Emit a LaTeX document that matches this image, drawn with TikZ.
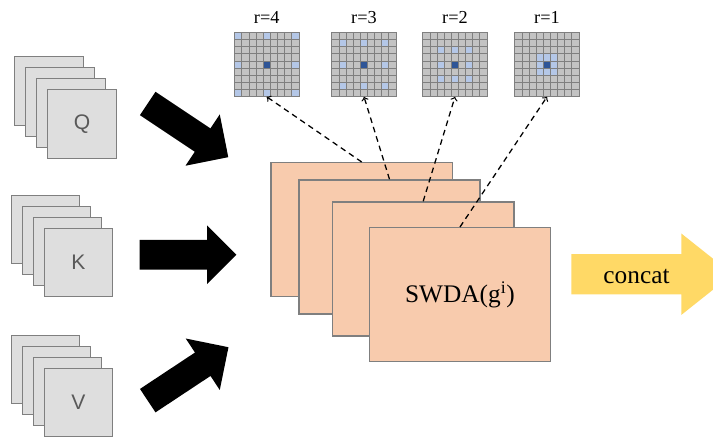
\documentclass[tikz,border=0pt]{standalone}
\usepackage{fontspec}
\setmainfont{Liberation Serif}
\setsansfont{Liberation Sans}
\usetikzlibrary{positioning,shapes.arrows}

\definecolor{sheetfill}{HTML}{DEDEDE}
\definecolor{framegray}{HTML}{7F7F7F}
\definecolor{cellgray}{HTML}{C3C3C3}
\definecolor{peach}{HTML}{F8CBAD}
\definecolor{lightblue}{HTML}{B4C7E7}
\definecolor{darkblue}{HTML}{2F5597}
\definecolor{catyellow}{HTML}{FFD966}
\definecolor{lettergray}{HTML}{595959}

\tikzset{
  sheet/.style={draw=framegray,fill=sheetfill,line width=0.8pt,
    minimum width=1.72cm,minimum height=1.72cm,inner sep=0,
    font=\sffamily\fontsize{15}{18}\selectfont,text=lettergray},
  headbox/.style={draw=framegray,fill=peach,line width=1pt,
    minimum width=4.53cm,minimum height=3.35cm,inner sep=0},
  gridbox/.style={fill=cellgray,minimum size=1.6cm,inner sep=0},
  gridline/.style={draw=framegray,line width=0.6pt},
  dashline/.style={->,dashed,dash pattern=on 4pt off 3pt,line width=0.9pt},
  bigarrow/.style={single arrow,fill=black,anchor=tail,inner sep=0,
    inner ysep=0.344cm,minimum height=2.42cm,
    single arrow head extend=0.42cm},
  catarrow/.style={single arrow,fill=catyellow,anchor=tail,inner sep=0,
    inner ysep=0.496cm,minimum height=4.03cm,
    single arrow head extend=0.515cm,single arrow tip angle=77}
}

\begin{document}
\begin{tikzpicture}[x=0.025cm,y=-0.025cm]
  \useasboundingbox (0,0) rectangle (713,437);
  \clip (0,0) rectangle (713,437);
  \pgfmathsetmacro\cs{64/9}

  % input stacks
  \foreach \s/\name/\sx/\sy in {q/Q/14.7/56.7, k/K/11/195, v/V/11/335} {
    \foreach \k in {0,1,2}
      \node[sheet] (\s\k) at (\sx+11*\k+34.5,\sy+11*\k+34.5) {};
    \node[sheet] (\s3) at (\sx+33+34.5,\sy+33+34.5) {\name};
  }

  % big arrows
  \node[bigarrow,rotate=-33.7] (qa) at (147.5,103.3) {};
  \node[bigarrow,inner ysep=0.366cm,single arrow head extend=0.36cm] (ka) at (139.3,254.7) {};
  \node[bigarrow,rotate=33.5] (va) at (147.5,400.8) {};

  % attention heads
  \node[headbox] (w1) at (361.7,229.7) {};
  \node[headbox] (w2) at (389.5,247) {};
  \node[headbox] (w3) at (423.2,269) {};
  \node[headbox,font=\fontsize{18}{22}\selectfont] (w4) at (460,294.7) {SWDA(g\textsuperscript{i})};

  % dilated windows
  \foreach \r/\gx in {4/234.7, 3/332, 2/423, 1/515} {
    \node[gridbox] (g\r) at (\gx+32,64.5) {};
    \node[above=5.8pt of g\r,inner sep=0,font=\fontsize{13}{15}\selectfont] (t\r) {r=\r};
    \foreach \i in {-1,0,1}
      \foreach \j in {-1,0,1}
        \fill[lightblue] ({\gx+(4+\i*\r)*\cs},{32.5+(4+\j*\r)*\cs}) rectangle ++(\cs,\cs);
    \fill[darkblue] ({\gx+4*\cs},{32.5+4*\cs}) rectangle ++(\cs,\cs);
    \foreach \k in {1,...,8} {
      \draw[gridline] ({\gx+\k*\cs},32.5) -- ++(0,64);
      \draw[gridline] (\gx,{32.5+\k*\cs}) -- ++(64,0);
    }
    \draw[gridline] (g\r.north west) rectangle (g\r.south east);
  }

  \draw[dashline] (w1.north) -- (g4.south);
  \draw[dashline] (w2.north) -- (g3.south);
  \draw[dashline] (w3.north) -- (g2.south);
  \draw[dashline] (w4.north) -- (g1.south);

  % output
  \node[catarrow] (cat) at (571,274.2) {};
  \node[font=\fontsize{18}{22}\selectfont] (catlabel) at (636.5,276) {concat};
\end{tikzpicture}
\end{document}
